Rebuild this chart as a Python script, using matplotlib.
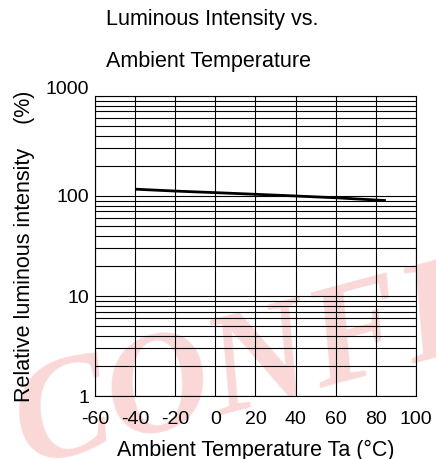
import matplotlib
matplotlib.use('Agg')
import matplotlib.pyplot as plt
import matplotlib.transforms as mtransforms
from matplotlib.ticker import FixedLocator, LogLocator, NullFormatter

plt.rcParams['font.family'] = ['Liberation Sans', 'DejaVu Sans']

# data
temp = [-40, -20, 0, 20, 40, 60, 85]
intensity = [117, 112, 108, 104, 100, 96, 90]

xticks = [-60, -40, -20, 0, 20, 40, 60, 80, 100]
yticks = [1, 10, 100, 1000]
ytick_labels = ['1', '10', '100', '1000']

fig = plt.figure(figsize=(4.36, 4.59), dpi=100)
ax = fig.add_axes([0.218, 0.137, 0.736, 0.654])
ax.set_zorder(1)
ax.patch.set_alpha(0)

# faded watermark behind the chart
fig.text(0.0, -0.08, 'CONFIDENTIAL', family=['Liberation Serif', 'DejaVu Serif'],
         fontsize=104, fontweight='bold', style='italic', color='#e83a3c', alpha=0.2,
         rotation=15, ha='left', va='bottom', zorder=0)

ax.plot(temp, intensity, color='black', linewidth=2.0, solid_capstyle='butt', zorder=3)

ax.set_yscale('log')
ax.set_xlim(-60, 100)
ax.set_ylim(1, 1000)
ax.xaxis.set_major_locator(FixedLocator(xticks))
ax.yaxis.set_major_locator(FixedLocator(yticks))
ax.yaxis.set_minor_locator(LogLocator(base=10, subs=range(2, 10)))
ax.yaxis.set_minor_formatter(NullFormatter())
ax.set_yticklabels(ytick_labels)
ax.set_xticklabels([str(t) for t in xticks])

ax.grid(True, which='major', axis='x', color='black', linewidth=0.8)
ax.grid(True, which='both', axis='y', color='black', linewidth=0.8)
ax.tick_params(which='both', length=0, labelsize=14)
ax.tick_params(axis='x', pad=11)
ax.tick_params(axis='y', pad=4)
for s in ax.spines.values():
    s.set_linewidth(0.8)

# nudge the top label up as in the datasheet
lbl = ax.get_yticklabels()[-1]
lbl.set_transform(lbl.get_transform() + mtransforms.ScaledTranslation(0, 8 / 100, fig.dpi_scale_trans))

ax.set_xlabel('Ambient Temperature Ta (°C)', fontsize=15.5, labelpad=8)
ax.set_ylabel('Relative luminous intensity    (%)', fontsize=15.5, labelpad=8)

fig.text(106 / 436, 1 - 20 / 459, 'Luminous Intensity vs.', fontsize=15.5, ha='left', va='center')
fig.text(106 / 436, 1 - 62 / 459, 'Ambient Temperature', fontsize=15.5, ha='left', va='center')

fig.savefig('out.png', dpi=100)
